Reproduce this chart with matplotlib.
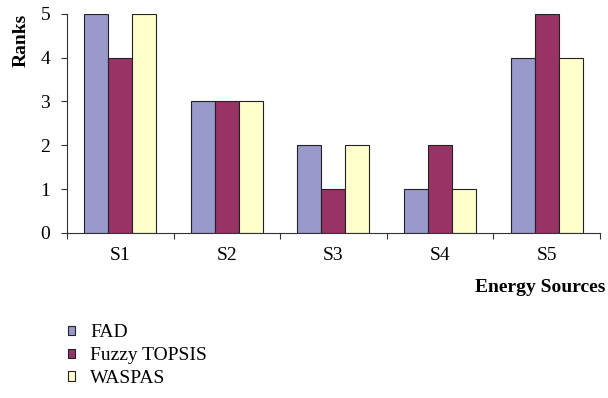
import matplotlib.pyplot as plt
import numpy as np
from matplotlib.patches import Patch

sources = ['S1', 'S2', 'S3', 'S4', 'S5']
fad = [5, 3, 2, 1, 4]
fuzzy_topsis = [4, 3, 1, 2, 5]
waspas = [5, 3, 2, 1, 4]
series_names = ['FAD', 'Fuzzy TOPSIS', 'WASPAS']
colors = ['#9999CC', '#993366', '#FFFFCC']

plt.rcParams['font.family'] = ['Liberation Serif', 'DejaVu Serif']

fig = plt.figure(figsize=(6.08, 3.98), dpi=100)
ax = fig.add_axes([0.110, 0.4146, 0.877, 0.551])

x = np.arange(len(sources))
w = 0.225
for i, (vals, c) in enumerate(zip([fad, fuzzy_topsis, waspas], colors)):
    ax.bar(x + (i - 1) * w, vals, w, color=c, edgecolor='#222222', linewidth=0.8)

ax.set_xlim(-0.5, 4.5)
ax.set_ylim(0, 5)
ax.set_yticks(range(6))
ax.set_xticks(np.arange(-0.5, 5, 1))
ax.set_xticklabels([])
ax.set_xticks(x, minor=True)
ax.set_xticklabels(sources, minor=True)
ax.tick_params(axis='x', which='minor', length=0, labelsize=14, pad=10)
ax.tick_params(axis='x', which='major', length=4, direction='out', color='#333333')
ax.tick_params(axis='y', length=4, direction='out', labelsize=14, color='#333333', pad=8)
for s in ['top', 'right']:
    ax.spines[s].set_visible(False)
for s in ['left', 'bottom']:
    ax.spines[s].set_color('#333333')

fig.text(0.035, 0.965, 'Ranks', rotation=90, ha='center', va='top',
         fontsize=14, fontweight='bold')
fig.text(0.995, 0.278, 'Energy Sources', ha='right', va='center',
         fontsize=14, fontweight='bold')

handles = [Patch(facecolor=c, edgecolor='#222222', linewidth=0.8) for c in colors]
fig.legend(handles, series_names, loc='upper left', bbox_to_anchor=(0.112, 0.185),
           frameon=False, fontsize=14, handlelength=0.35, handleheight=0.35,
           handletextpad=0.8, labelspacing=0.3, borderaxespad=0, borderpad=0)

fig.savefig('out.png', dpi=100)
